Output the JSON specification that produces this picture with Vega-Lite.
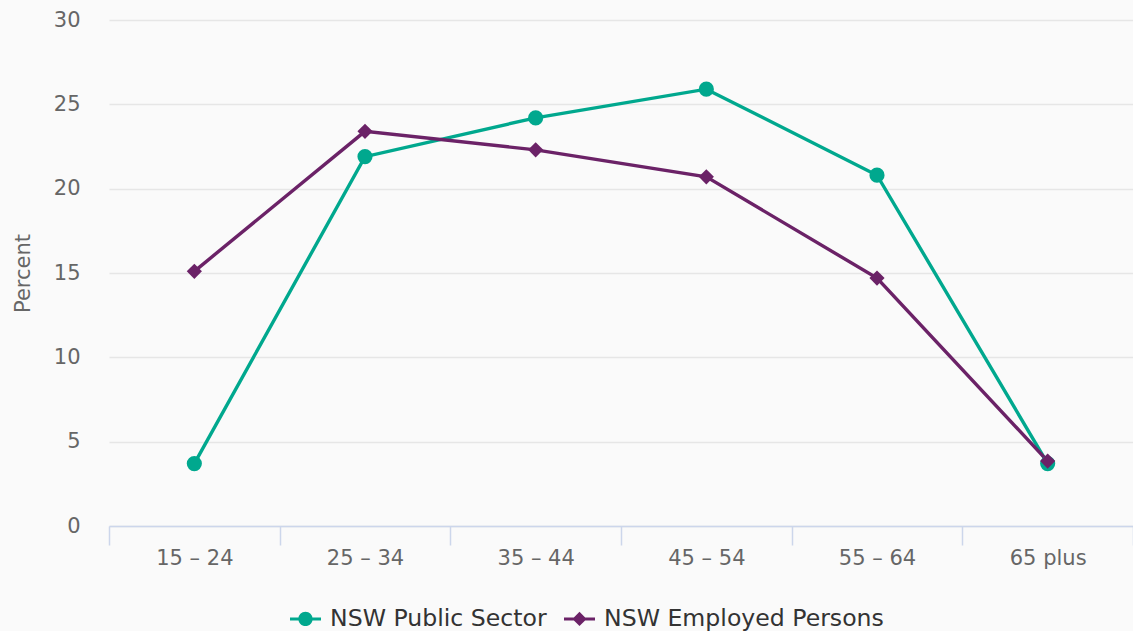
{
  "$schema": "https://vega.github.io/schema/vega-lite/v6.json",
  "autosize": "none",
  "width": 1024,
  "height": 506,
  "padding": {"left": 109, "top": 20, "right": 0, "bottom": 105},
  "background": "#fafafa",
  "config": {
    "font": "DejaVu Sans",
    "view": {"stroke": null}
  },
  "data": {
    "values": [
      {"series": "NSW Public Sector", "age": "15 – 24", "value": 3.7},
      {"series": "NSW Public Sector", "age": "25 – 34", "value": 21.9},
      {"series": "NSW Public Sector", "age": "35 – 44", "value": 24.2},
      {"series": "NSW Public Sector", "age": "45 – 54", "value": 25.9},
      {"series": "NSW Public Sector", "age": "55 – 64", "value": 20.8},
      {"series": "NSW Public Sector", "age": "65 plus", "value": 3.7},
      {"series": "NSW Employed Persons", "age": "15 – 24", "value": 15.1},
      {"series": "NSW Employed Persons", "age": "25 – 34", "value": 23.4},
      {"series": "NSW Employed Persons", "age": "35 – 44", "value": 22.3},
      {"series": "NSW Employed Persons", "age": "45 – 54", "value": 20.7},
      {"series": "NSW Employed Persons", "age": "55 – 64", "value": 14.7},
      {"series": "NSW Employed Persons", "age": "65 plus", "value": 3.85}
    ]
  },
  "encoding": {
    "x": {
      "field": "age",
      "type": "nominal",
      "sort": null,
      "scale": {"type": "band", "paddingInner": 0, "paddingOuter": 0},
      "axis": {
        "title": null,
        "labelAngle": 0,
        "labelFontSize": 21,
        "labelColor": "#666666",
        "labelPadding": 2,
        "domainColor": "#ccd6eb",
        "domainWidth": 1.5,
        "tickColor": "#ccd6eb",
        "tickWidth": 1.5,
        "tickSize": 19,
        "tickBand": "extent",
        "grid": false
      }
    },
    "y": {
      "field": "value",
      "type": "quantitative",
      "scale": {"domain": [0, 30], "nice": false},
      "axis": {
        "title": "Percent",
        "titleFontSize": 21,
        "titleFontWeight": "normal",
        "titleColor": "#666666",
        "titlePadding": 20,
        "values": [0, 5, 10, 15, 20, 25, 30],
        "labelFontSize": 21,
        "labelColor": "#666666",
        "labelPadding": 29,
        "domain": false,
        "ticks": false,
        "gridColor": "#e6e6e6",
        "gridWidth": 1.5
      }
    },
    "color": {
      "field": "series",
      "type": "nominal",
      "sort": ["NSW Public Sector", "NSW Employed Persons"],
      "scale": {"domain": ["NSW Public Sector", "NSW Employed Persons"], "range": ["#00a88e", "#6b2267"]},
      "legend": {
        "title": null,
        "orient": "none",
        "direction": "horizontal",
        "legendX": 181,
        "legendY": 583,
        "padding": 0,
        "symbolSize": 961,
        "symbolStrokeWidth": 0,
        "labelFontSize": 23.6,
        "labelLimit": 500,
        "labelColor": "#333333",
        "labelOffset": 9,
        "columnPadding": 17,
        "symbolOpacity": 1,
        "encode": {
          "symbols": {
            "update": {
              "shape": {"signal": "datum.value === 'NSW Public Sector' ? 'M-1,-0.1H1V0.1H-1Z M-0.46,0A0.46,0.46 0 1,1 0.46,0A0.46,0.46 0 1,1 -0.46,0Z' : 'M-1,-0.1H1V0.1H-1Z M0,-0.46L0.46,0L0,0.46L-0.46,0Z'"},
              "fill": {"scale": "color", "field": "value"},
              "strokeWidth": {"value": 0}
            }
          }
        }
      }
    }
  },
  "layer": [
    {
      "mark": {"type": "line", "strokeWidth": 3.4}
    },
    {
      "transform": [{"filter": "datum.series === 'NSW Public Sector'"}],
      "mark": {"type": "point", "filled": true, "opacity": 1, "shape": "circle", "size": 230}
    },
    {
      "transform": [{"filter": "datum.series === 'NSW Employed Persons'"}],
      "mark": {"type": "point", "filled": true, "opacity": 1, "shape": "diamond", "size": 230}
    }
  ]
}
